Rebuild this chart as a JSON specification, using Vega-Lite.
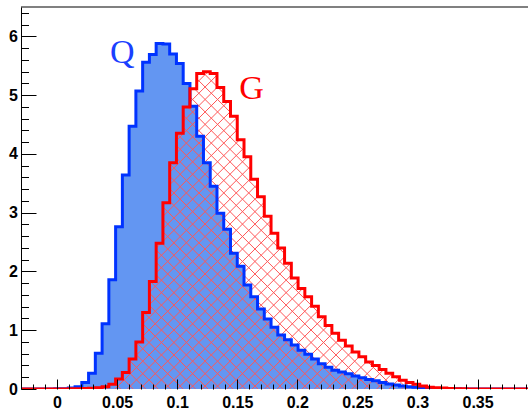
{
  "$schema": "https://vega.github.io/schema/vega-lite/v6.json",
  "width": 507,
  "height": 382,
  "autosize": {"type": "none"},
  "padding": {"left": 21, "top": 7, "right": 0, "bottom": 20},
  "background": "white",
  "config": {"view": {"stroke": null}},
  "data": {"values": [
    {"x":-0.03,"s":"Q","v":0},{"x":-0.024375,"s":"Q","v":0},{"x":-0.01875,"s":"Q","v":0},{"x":-0.013125,"s":"Q","v":0},{"x":-0.0075,"s":"Q","v":0.002},{"x":-0.001875,"s":"Q","v":0.003},{"x":0.00375,"s":"Q","v":0.006},{"x":0.009375,"s":"Q","v":0.015},{"x":0.015,"s":"Q","v":0.04},{"x":0.020625,"s":"Q","v":0.11},{"x":0.02625,"s":"Q","v":0.27},{"x":0.031875,"s":"Q","v":0.61},{"x":0.0375,"s":"Q","v":1.11},{"x":0.043125,"s":"Q","v":1.86},{"x":0.04875,"s":"Q","v":2.76},{"x":0.054375,"s":"Q","v":3.64},{"x":0.06,"s":"Q","v":4.47},{"x":0.065625,"s":"Q","v":5.07},{"x":0.07125,"s":"Q","v":5.56},{"x":0.076875,"s":"Q","v":5.69},{"x":0.0825,"s":"Q","v":5.88},{"x":0.088125,"s":"Q","v":5.87},{"x":0.09375,"s":"Q","v":5.7},{"x":0.099375,"s":"Q","v":5.54},{"x":0.105,"s":"Q","v":5.2},{"x":0.110625,"s":"Q","v":4.81},{"x":0.11625,"s":"Q","v":4.3},{"x":0.121875,"s":"Q","v":3.85},{"x":0.1275,"s":"Q","v":3.45},{"x":0.133125,"s":"Q","v":2.99},{"x":0.13875,"s":"Q","v":2.72},{"x":0.144375,"s":"Q","v":2.31},{"x":0.15,"s":"Q","v":2.09},{"x":0.155625,"s":"Q","v":1.77},{"x":0.16125,"s":"Q","v":1.57},{"x":0.166875,"s":"Q","v":1.36},{"x":0.1725,"s":"Q","v":1.19},{"x":0.178125,"s":"Q","v":1.05},{"x":0.18375,"s":"Q","v":0.92},{"x":0.189375,"s":"Q","v":0.84},{"x":0.195,"s":"Q","v":0.75},{"x":0.200625,"s":"Q","v":0.66},{"x":0.20625,"s":"Q","v":0.59},{"x":0.211875,"s":"Q","v":0.51},{"x":0.2175,"s":"Q","v":0.43},{"x":0.223125,"s":"Q","v":0.37},{"x":0.22875,"s":"Q","v":0.32},{"x":0.234375,"s":"Q","v":0.29},{"x":0.24,"s":"Q","v":0.26},{"x":0.245625,"s":"Q","v":0.22},{"x":0.25125,"s":"Q","v":0.19},{"x":0.256875,"s":"Q","v":0.16},{"x":0.2625,"s":"Q","v":0.14},{"x":0.268125,"s":"Q","v":0.11},{"x":0.27375,"s":"Q","v":0.085},{"x":0.279375,"s":"Q","v":0.07},{"x":0.285,"s":"Q","v":0.05},{"x":0.290625,"s":"Q","v":0.04},{"x":0.29625,"s":"Q","v":0.03},{"x":0.301875,"s":"Q","v":0.02},{"x":0.3075,"s":"Q","v":0.015},{"x":0.313125,"s":"Q","v":0.01},{"x":0.31875,"s":"Q","v":0.006},{"x":0.324375,"s":"Q","v":0.004},{"x":0.33,"s":"Q","v":0.003},{"x":0.335625,"s":"Q","v":0.002},{"x":0.34125,"s":"Q","v":0.001},{"x":0.346875,"s":"Q","v":0.001},{"x":0.3525,"s":"Q","v":0.001},{"x":0.358125,"s":"Q","v":0.001},{"x":0.36375,"s":"Q","v":0.001},{"x":0.369375,"s":"Q","v":0.001},{"x":0.375,"s":"Q","v":0.001},{"x":0.380625,"s":"Q","v":0.001},{"x":0.38625,"s":"Q","v":0.001},{"x":0.391875,"s":"Q","v":0.001},{"x":0.3975,"s":"Q","v":0},
    {"x":-0.03,"s":"G","v":0},{"x":-0.024375,"s":"G","v":0},{"x":-0.01875,"s":"G","v":0},{"x":-0.013125,"s":"G","v":0},{"x":-0.0075,"s":"G","v":0},{"x":-0.001875,"s":"G","v":0},{"x":0.00375,"s":"G","v":0.002},{"x":0.009375,"s":"G","v":0.003},{"x":0.015,"s":"G","v":0.005},{"x":0.020625,"s":"G","v":0.008},{"x":0.02625,"s":"G","v":0.012},{"x":0.031875,"s":"G","v":0.02},{"x":0.0375,"s":"G","v":0.04},{"x":0.043125,"s":"G","v":0.08},{"x":0.04875,"s":"G","v":0.17},{"x":0.054375,"s":"G","v":0.28},{"x":0.06,"s":"G","v":0.51},{"x":0.065625,"s":"G","v":0.8},{"x":0.07125,"s":"G","v":1.3},{"x":0.076875,"s":"G","v":1.83},{"x":0.0825,"s":"G","v":2.48},{"x":0.088125,"s":"G","v":3.17},{"x":0.09375,"s":"G","v":3.85},{"x":0.099375,"s":"G","v":4.35},{"x":0.105,"s":"G","v":4.8},{"x":0.110625,"s":"G","v":5.11},{"x":0.11625,"s":"G","v":5.37},{"x":0.121875,"s":"G","v":5.4},{"x":0.1275,"s":"G","v":5.37},{"x":0.133125,"s":"G","v":5.13},{"x":0.13875,"s":"G","v":4.89},{"x":0.144375,"s":"G","v":4.64},{"x":0.15,"s":"G","v":4.24},{"x":0.155625,"s":"G","v":3.95},{"x":0.16125,"s":"G","v":3.57},{"x":0.166875,"s":"G","v":3.27},{"x":0.1725,"s":"G","v":2.94},{"x":0.178125,"s":"G","v":2.65},{"x":0.18375,"s":"G","v":2.4},{"x":0.189375,"s":"G","v":2.14},{"x":0.195,"s":"G","v":1.89},{"x":0.200625,"s":"G","v":1.71},{"x":0.20625,"s":"G","v":1.57},{"x":0.211875,"s":"G","v":1.41},{"x":0.2175,"s":"G","v":1.23},{"x":0.223125,"s":"G","v":1.08},{"x":0.22875,"s":"G","v":0.95},{"x":0.234375,"s":"G","v":0.83},{"x":0.24,"s":"G","v":0.73},{"x":0.245625,"s":"G","v":0.63},{"x":0.25125,"s":"G","v":0.55},{"x":0.256875,"s":"G","v":0.46},{"x":0.2625,"s":"G","v":0.4},{"x":0.268125,"s":"G","v":0.33},{"x":0.27375,"s":"G","v":0.27},{"x":0.279375,"s":"G","v":0.21},{"x":0.285,"s":"G","v":0.15},{"x":0.290625,"s":"G","v":0.11},{"x":0.29625,"s":"G","v":0.08},{"x":0.301875,"s":"G","v":0.05},{"x":0.3075,"s":"G","v":0.03},{"x":0.313125,"s":"G","v":0.02},{"x":0.31875,"s":"G","v":0.015},{"x":0.324375,"s":"G","v":0.01},{"x":0.33,"s":"G","v":0.005},{"x":0.335625,"s":"G","v":0.003},{"x":0.34125,"s":"G","v":0.001},{"x":0.346875,"s":"G","v":0.001},{"x":0.3525,"s":"G","v":0.001},{"x":0.358125,"s":"G","v":0.001},{"x":0.36375,"s":"G","v":0.001},{"x":0.369375,"s":"G","v":0.001},{"x":0.375,"s":"G","v":0.001},{"x":0.380625,"s":"G","v":0.001},{"x":0.38625,"s":"G","v":0.001},{"x":0.391875,"s":"G","v":0.001},{"x":0.3975,"s":"G","v":0},
    {"x":0.0542,"s":"QL","v":5.54,"label":"Q"},
    {"x":0.1619,"s":"GL","v":4.93,"label":"G"}
  ]},
  "encoding": {
    "x": {"field": "x", "type": "quantitative",
      "scale": {"domain": [-0.03, 0.392], "nice": false, "zero": false},
      "axis": {"title": null, "domain": false, "grid": false, "zindex": 1,
        "values": [-0.03,-0.02,-0.01,0,0.01,0.02,0.03,0.04,0.05,0.06,0.07,0.08,0.09,0.1,0.11,0.12,0.13,0.14,0.15,0.16,0.17,0.18,0.19,0.2,0.21,0.22,0.23,0.24,0.25,0.26,0.27,0.28,0.29,0.3,0.31,0.32,0.33,0.34,0.35,0.36,0.37,0.38,0.39],
        "tickColor": "black", "tickWidth": 1,
        "tickSize": {"condition": {"test": "abs(datum.value*20-round(datum.value*20))<0.001", "value": -10}, "value": -5},
        "labelExpr": "abs(datum.value*20-round(datum.value*20))<0.001 ? format(datum.value,'~g') : ''",
        "labelFont": "Liberation Sans", "labelFontWeight": "bold", "labelFontSize": 16, "labelColor": "black",
        "labelPadding": 15, "labelFlush": false, "labelOverlap": false}},
    "y": {"field": "v", "type": "quantitative",
      "scale": {"domain": [0, 6.5], "nice": false},
      "stack": null,
      "axis": {"title": null, "domain": true, "domainColor": "black", "domainWidth": 1, "grid": false, "zindex": 1,
        "values": [0,0.2,0.4,0.6,0.8,1,1.2,1.4,1.6,1.8,2,2.2,2.4,2.6,2.8,3,3.2,3.4,3.6,3.8,4,4.2,4.4,4.6,4.8,5,5.2,5.4,5.6,5.8,6,6.2,6.4],
        "tickColor": "black", "tickWidth": 1,
        "tickSize": {"condition": {"test": "abs(datum.value-round(datum.value))<0.01", "value": -15}, "value": -7.5},
        "labelExpr": "abs(datum.value-round(datum.value))<0.01 ? format(datum.value,'d') : ''",
        "labelFont": "Liberation Sans", "labelFontWeight": "bold", "labelFontSize": 16, "labelColor": "black",
        "labelPadding": 18.5, "labelFlush": false, "labelOverlap": false}}
  },
  "layer": [
    {"transform": [{"filter": "datum.s == 'Q'"}],
     "mark": {"type": "area", "interpolate": "step-after", "orient": "vertical", "clip": true, "color": "#6396F2", "opacity": 1}},
    {"transform": [{"filter": "datum.s == 'G'"}],
     "mark": {"type": "area", "interpolate": "step-after", "orient": "vertical", "clip": true, "opacity": 1,
       "fill": {"gradient": "linear", "x1": 0, "y1": 0, "x2": 1.1708, "y2": 0.7236, "stops": [
{"offset":0,"color":"#ff555500"},
{"offset":0.0138,"color":"#ff555500"},{"offset":0.015,"color":"#ff5555"},{"offset":0.0162,"color":"#ff555500"},
{"offset":0.0288,"color":"#ff555500"},{"offset":0.03,"color":"#ff5555"},{"offset":0.0312,"color":"#ff555500"},
{"offset":0.0438,"color":"#ff555500"},{"offset":0.045,"color":"#ff5555"},{"offset":0.0462,"color":"#ff555500"},
{"offset":0.0588,"color":"#ff555500"},{"offset":0.06,"color":"#ff5555"},{"offset":0.0612,"color":"#ff555500"},
{"offset":0.0738,"color":"#ff555500"},{"offset":0.075,"color":"#ff5555"},{"offset":0.0762,"color":"#ff555500"},
{"offset":0.0888,"color":"#ff555500"},{"offset":0.09,"color":"#ff5555"},{"offset":0.0912,"color":"#ff555500"},
{"offset":0.1038,"color":"#ff555500"},{"offset":0.105,"color":"#ff5555"},{"offset":0.1062,"color":"#ff555500"},
{"offset":0.1188,"color":"#ff555500"},{"offset":0.12,"color":"#ff5555"},{"offset":0.1212,"color":"#ff555500"},
{"offset":0.1338,"color":"#ff555500"},{"offset":0.135,"color":"#ff5555"},{"offset":0.1362,"color":"#ff555500"},
{"offset":0.1488,"color":"#ff555500"},{"offset":0.15,"color":"#ff5555"},{"offset":0.1512,"color":"#ff555500"},
{"offset":0.1638,"color":"#ff555500"},{"offset":0.165,"color":"#ff5555"},{"offset":0.1662,"color":"#ff555500"},
{"offset":0.1788,"color":"#ff555500"},{"offset":0.18,"color":"#ff5555"},{"offset":0.1812,"color":"#ff555500"},
{"offset":0.1938,"color":"#ff555500"},{"offset":0.195,"color":"#ff5555"},{"offset":0.1962,"color":"#ff555500"},
{"offset":0.2088,"color":"#ff555500"},{"offset":0.21,"color":"#ff5555"},{"offset":0.2112,"color":"#ff555500"},
{"offset":0.2238,"color":"#ff555500"},{"offset":0.225,"color":"#ff5555"},{"offset":0.2262,"color":"#ff555500"},
{"offset":0.2388,"color":"#ff555500"},{"offset":0.24,"color":"#ff5555"},{"offset":0.2412,"color":"#ff555500"},
{"offset":0.2538,"color":"#ff555500"},{"offset":0.255,"color":"#ff5555"},{"offset":0.2562,"color":"#ff555500"},
{"offset":0.2688,"color":"#ff555500"},{"offset":0.27,"color":"#ff5555"},{"offset":0.2712,"color":"#ff555500"},
{"offset":0.2838,"color":"#ff555500"},{"offset":0.285,"color":"#ff5555"},{"offset":0.2862,"color":"#ff555500"},
{"offset":0.2988,"color":"#ff555500"},{"offset":0.3,"color":"#ff5555"},{"offset":0.3012,"color":"#ff555500"},
{"offset":0.3138,"color":"#ff555500"},{"offset":0.315,"color":"#ff5555"},{"offset":0.3162,"color":"#ff555500"},
{"offset":0.3288,"color":"#ff555500"},{"offset":0.33,"color":"#ff5555"},{"offset":0.3312,"color":"#ff555500"},
{"offset":0.3438,"color":"#ff555500"},{"offset":0.345,"color":"#ff5555"},{"offset":0.3462,"color":"#ff555500"},
{"offset":0.3588,"color":"#ff555500"},{"offset":0.36,"color":"#ff5555"},{"offset":0.3612,"color":"#ff555500"},
{"offset":0.3738,"color":"#ff555500"},{"offset":0.375,"color":"#ff5555"},{"offset":0.3762,"color":"#ff555500"},
{"offset":0.3888,"color":"#ff555500"},{"offset":0.39,"color":"#ff5555"},{"offset":0.3912,"color":"#ff555500"},
{"offset":0.4038,"color":"#ff555500"},{"offset":0.405,"color":"#ff5555"},{"offset":0.4062,"color":"#ff555500"},
{"offset":0.4188,"color":"#ff555500"},{"offset":0.42,"color":"#ff5555"},{"offset":0.4212,"color":"#ff555500"},
{"offset":0.4338,"color":"#ff555500"},{"offset":0.435,"color":"#ff5555"},{"offset":0.4362,"color":"#ff555500"},
{"offset":0.4488,"color":"#ff555500"},{"offset":0.45,"color":"#ff5555"},{"offset":0.4512,"color":"#ff555500"},
{"offset":0.4638,"color":"#ff555500"},{"offset":0.465,"color":"#ff5555"},{"offset":0.4662,"color":"#ff555500"},
{"offset":0.4788,"color":"#ff555500"},{"offset":0.48,"color":"#ff5555"},{"offset":0.4812,"color":"#ff555500"},
{"offset":0.4938,"color":"#ff555500"},{"offset":0.495,"color":"#ff5555"},{"offset":0.4962,"color":"#ff555500"},
{"offset":0.5088,"color":"#ff555500"},{"offset":0.51,"color":"#ff5555"},{"offset":0.5112,"color":"#ff555500"},
{"offset":0.5238,"color":"#ff555500"},{"offset":0.525,"color":"#ff5555"},{"offset":0.5262,"color":"#ff555500"},
{"offset":0.5388,"color":"#ff555500"},{"offset":0.54,"color":"#ff5555"},{"offset":0.5412,"color":"#ff555500"},
{"offset":0.5538,"color":"#ff555500"},{"offset":0.555,"color":"#ff5555"},{"offset":0.5562,"color":"#ff555500"},
{"offset":0.5688,"color":"#ff555500"},{"offset":0.57,"color":"#ff5555"},{"offset":0.5712,"color":"#ff555500"},
{"offset":0.5838,"color":"#ff555500"},{"offset":0.585,"color":"#ff5555"},{"offset":0.5862,"color":"#ff555500"},
{"offset":0.5988,"color":"#ff555500"},{"offset":0.6,"color":"#ff5555"},{"offset":0.6012,"color":"#ff555500"},
{"offset":0.6138,"color":"#ff555500"},{"offset":0.615,"color":"#ff5555"},{"offset":0.6162,"color":"#ff555500"},
{"offset":0.6288,"color":"#ff555500"},{"offset":0.63,"color":"#ff5555"},{"offset":0.6312,"color":"#ff555500"},
{"offset":0.6438,"color":"#ff555500"},{"offset":0.645,"color":"#ff5555"},{"offset":0.6462,"color":"#ff555500"},
{"offset":0.6588,"color":"#ff555500"},{"offset":0.66,"color":"#ff5555"},{"offset":0.6612,"color":"#ff555500"},
{"offset":0.6738,"color":"#ff555500"},{"offset":0.675,"color":"#ff5555"},{"offset":0.6762,"color":"#ff555500"},
{"offset":0.6888,"color":"#ff555500"},{"offset":0.69,"color":"#ff5555"},{"offset":0.6912,"color":"#ff555500"},
{"offset":0.7038,"color":"#ff555500"},{"offset":0.705,"color":"#ff5555"},{"offset":0.7062,"color":"#ff555500"},
{"offset":0.7188,"color":"#ff555500"},{"offset":0.72,"color":"#ff5555"},{"offset":0.7212,"color":"#ff555500"},
{"offset":0.7338,"color":"#ff555500"},{"offset":0.735,"color":"#ff5555"},{"offset":0.7362,"color":"#ff555500"},
{"offset":0.7488,"color":"#ff555500"},{"offset":0.75,"color":"#ff5555"},{"offset":0.7512,"color":"#ff555500"},
{"offset":0.7638,"color":"#ff555500"},{"offset":0.765,"color":"#ff5555"},{"offset":0.7662,"color":"#ff555500"},
{"offset":0.7788,"color":"#ff555500"},{"offset":0.78,"color":"#ff5555"},{"offset":0.7812,"color":"#ff555500"},
{"offset":0.7938,"color":"#ff555500"},{"offset":0.795,"color":"#ff5555"},{"offset":0.7962,"color":"#ff555500"},
{"offset":0.8088,"color":"#ff555500"},{"offset":0.81,"color":"#ff5555"},{"offset":0.8112,"color":"#ff555500"},
{"offset":0.8238,"color":"#ff555500"},{"offset":0.825,"color":"#ff5555"},{"offset":0.8262,"color":"#ff555500"},
{"offset":0.8388,"color":"#ff555500"},{"offset":0.84,"color":"#ff5555"},{"offset":0.8412,"color":"#ff555500"},
{"offset":0.8538,"color":"#ff555500"},{"offset":0.855,"color":"#ff5555"},{"offset":0.8562,"color":"#ff555500"},
{"offset":0.8688,"color":"#ff555500"},{"offset":0.87,"color":"#ff5555"},{"offset":0.8712,"color":"#ff555500"},
{"offset":0.8838,"color":"#ff555500"},{"offset":0.885,"color":"#ff5555"},{"offset":0.8862,"color":"#ff555500"},
{"offset":0.8988,"color":"#ff555500"},{"offset":0.9,"color":"#ff5555"},{"offset":0.9012,"color":"#ff555500"},
{"offset":0.9138,"color":"#ff555500"},{"offset":0.915,"color":"#ff5555"},{"offset":0.9162,"color":"#ff555500"},
{"offset":0.9288,"color":"#ff555500"},{"offset":0.93,"color":"#ff5555"},{"offset":0.9312,"color":"#ff555500"},
{"offset":0.9438,"color":"#ff555500"},{"offset":0.945,"color":"#ff5555"},{"offset":0.9462,"color":"#ff555500"},
{"offset":0.9588,"color":"#ff555500"},{"offset":0.96,"color":"#ff5555"},{"offset":0.9612,"color":"#ff555500"},
{"offset":0.9738,"color":"#ff555500"},{"offset":0.975,"color":"#ff5555"},{"offset":0.9762,"color":"#ff555500"},
{"offset":0.9888,"color":"#ff555500"},{"offset":0.99,"color":"#ff5555"},{"offset":0.9912,"color":"#ff555500"},
{"offset":1,"color":"#ff555500"}]}}},
    {"transform": [{"filter": "datum.s == 'G'"}],
     "mark": {"type": "area", "interpolate": "step-after", "orient": "vertical", "clip": true, "opacity": 1,
       "fill": {"gradient": "linear", "x1": 0, "y1": 1, "x2": 1.1708, "y2": 0.2764, "stops": [
{"offset":0,"color":"#ff555500"},
{"offset":0.0138,"color":"#ff555500"},{"offset":0.015,"color":"#ff5555"},{"offset":0.0162,"color":"#ff555500"},
{"offset":0.0288,"color":"#ff555500"},{"offset":0.03,"color":"#ff5555"},{"offset":0.0312,"color":"#ff555500"},
{"offset":0.0438,"color":"#ff555500"},{"offset":0.045,"color":"#ff5555"},{"offset":0.0462,"color":"#ff555500"},
{"offset":0.0588,"color":"#ff555500"},{"offset":0.06,"color":"#ff5555"},{"offset":0.0612,"color":"#ff555500"},
{"offset":0.0738,"color":"#ff555500"},{"offset":0.075,"color":"#ff5555"},{"offset":0.0762,"color":"#ff555500"},
{"offset":0.0888,"color":"#ff555500"},{"offset":0.09,"color":"#ff5555"},{"offset":0.0912,"color":"#ff555500"},
{"offset":0.1038,"color":"#ff555500"},{"offset":0.105,"color":"#ff5555"},{"offset":0.1062,"color":"#ff555500"},
{"offset":0.1188,"color":"#ff555500"},{"offset":0.12,"color":"#ff5555"},{"offset":0.1212,"color":"#ff555500"},
{"offset":0.1338,"color":"#ff555500"},{"offset":0.135,"color":"#ff5555"},{"offset":0.1362,"color":"#ff555500"},
{"offset":0.1488,"color":"#ff555500"},{"offset":0.15,"color":"#ff5555"},{"offset":0.1512,"color":"#ff555500"},
{"offset":0.1638,"color":"#ff555500"},{"offset":0.165,"color":"#ff5555"},{"offset":0.1662,"color":"#ff555500"},
{"offset":0.1788,"color":"#ff555500"},{"offset":0.18,"color":"#ff5555"},{"offset":0.1812,"color":"#ff555500"},
{"offset":0.1938,"color":"#ff555500"},{"offset":0.195,"color":"#ff5555"},{"offset":0.1962,"color":"#ff555500"},
{"offset":0.2088,"color":"#ff555500"},{"offset":0.21,"color":"#ff5555"},{"offset":0.2112,"color":"#ff555500"},
{"offset":0.2238,"color":"#ff555500"},{"offset":0.225,"color":"#ff5555"},{"offset":0.2262,"color":"#ff555500"},
{"offset":0.2388,"color":"#ff555500"},{"offset":0.24,"color":"#ff5555"},{"offset":0.2412,"color":"#ff555500"},
{"offset":0.2538,"color":"#ff555500"},{"offset":0.255,"color":"#ff5555"},{"offset":0.2562,"color":"#ff555500"},
{"offset":0.2688,"color":"#ff555500"},{"offset":0.27,"color":"#ff5555"},{"offset":0.2712,"color":"#ff555500"},
{"offset":0.2838,"color":"#ff555500"},{"offset":0.285,"color":"#ff5555"},{"offset":0.2862,"color":"#ff555500"},
{"offset":0.2988,"color":"#ff555500"},{"offset":0.3,"color":"#ff5555"},{"offset":0.3012,"color":"#ff555500"},
{"offset":0.3138,"color":"#ff555500"},{"offset":0.315,"color":"#ff5555"},{"offset":0.3162,"color":"#ff555500"},
{"offset":0.3288,"color":"#ff555500"},{"offset":0.33,"color":"#ff5555"},{"offset":0.3312,"color":"#ff555500"},
{"offset":0.3438,"color":"#ff555500"},{"offset":0.345,"color":"#ff5555"},{"offset":0.3462,"color":"#ff555500"},
{"offset":0.3588,"color":"#ff555500"},{"offset":0.36,"color":"#ff5555"},{"offset":0.3612,"color":"#ff555500"},
{"offset":0.3738,"color":"#ff555500"},{"offset":0.375,"color":"#ff5555"},{"offset":0.3762,"color":"#ff555500"},
{"offset":0.3888,"color":"#ff555500"},{"offset":0.39,"color":"#ff5555"},{"offset":0.3912,"color":"#ff555500"},
{"offset":0.4038,"color":"#ff555500"},{"offset":0.405,"color":"#ff5555"},{"offset":0.4062,"color":"#ff555500"},
{"offset":0.4188,"color":"#ff555500"},{"offset":0.42,"color":"#ff5555"},{"offset":0.4212,"color":"#ff555500"},
{"offset":0.4338,"color":"#ff555500"},{"offset":0.435,"color":"#ff5555"},{"offset":0.4362,"color":"#ff555500"},
{"offset":0.4488,"color":"#ff555500"},{"offset":0.45,"color":"#ff5555"},{"offset":0.4512,"color":"#ff555500"},
{"offset":0.4638,"color":"#ff555500"},{"offset":0.465,"color":"#ff5555"},{"offset":0.4662,"color":"#ff555500"},
{"offset":0.4788,"color":"#ff555500"},{"offset":0.48,"color":"#ff5555"},{"offset":0.4812,"color":"#ff555500"},
{"offset":0.4938,"color":"#ff555500"},{"offset":0.495,"color":"#ff5555"},{"offset":0.4962,"color":"#ff555500"},
{"offset":0.5088,"color":"#ff555500"},{"offset":0.51,"color":"#ff5555"},{"offset":0.5112,"color":"#ff555500"},
{"offset":0.5238,"color":"#ff555500"},{"offset":0.525,"color":"#ff5555"},{"offset":0.5262,"color":"#ff555500"},
{"offset":0.5388,"color":"#ff555500"},{"offset":0.54,"color":"#ff5555"},{"offset":0.5412,"color":"#ff555500"},
{"offset":0.5538,"color":"#ff555500"},{"offset":0.555,"color":"#ff5555"},{"offset":0.5562,"color":"#ff555500"},
{"offset":0.5688,"color":"#ff555500"},{"offset":0.57,"color":"#ff5555"},{"offset":0.5712,"color":"#ff555500"},
{"offset":0.5838,"color":"#ff555500"},{"offset":0.585,"color":"#ff5555"},{"offset":0.5862,"color":"#ff555500"},
{"offset":0.5988,"color":"#ff555500"},{"offset":0.6,"color":"#ff5555"},{"offset":0.6012,"color":"#ff555500"},
{"offset":0.6138,"color":"#ff555500"},{"offset":0.615,"color":"#ff5555"},{"offset":0.6162,"color":"#ff555500"},
{"offset":0.6288,"color":"#ff555500"},{"offset":0.63,"color":"#ff5555"},{"offset":0.6312,"color":"#ff555500"},
{"offset":0.6438,"color":"#ff555500"},{"offset":0.645,"color":"#ff5555"},{"offset":0.6462,"color":"#ff555500"},
{"offset":0.6588,"color":"#ff555500"},{"offset":0.66,"color":"#ff5555"},{"offset":0.6612,"color":"#ff555500"},
{"offset":0.6738,"color":"#ff555500"},{"offset":0.675,"color":"#ff5555"},{"offset":0.6762,"color":"#ff555500"},
{"offset":0.6888,"color":"#ff555500"},{"offset":0.69,"color":"#ff5555"},{"offset":0.6912,"color":"#ff555500"},
{"offset":0.7038,"color":"#ff555500"},{"offset":0.705,"color":"#ff5555"},{"offset":0.7062,"color":"#ff555500"},
{"offset":0.7188,"color":"#ff555500"},{"offset":0.72,"color":"#ff5555"},{"offset":0.7212,"color":"#ff555500"},
{"offset":0.7338,"color":"#ff555500"},{"offset":0.735,"color":"#ff5555"},{"offset":0.7362,"color":"#ff555500"},
{"offset":0.7488,"color":"#ff555500"},{"offset":0.75,"color":"#ff5555"},{"offset":0.7512,"color":"#ff555500"},
{"offset":0.7638,"color":"#ff555500"},{"offset":0.765,"color":"#ff5555"},{"offset":0.7662,"color":"#ff555500"},
{"offset":0.7788,"color":"#ff555500"},{"offset":0.78,"color":"#ff5555"},{"offset":0.7812,"color":"#ff555500"},
{"offset":0.7938,"color":"#ff555500"},{"offset":0.795,"color":"#ff5555"},{"offset":0.7962,"color":"#ff555500"},
{"offset":0.8088,"color":"#ff555500"},{"offset":0.81,"color":"#ff5555"},{"offset":0.8112,"color":"#ff555500"},
{"offset":0.8238,"color":"#ff555500"},{"offset":0.825,"color":"#ff5555"},{"offset":0.8262,"color":"#ff555500"},
{"offset":0.8388,"color":"#ff555500"},{"offset":0.84,"color":"#ff5555"},{"offset":0.8412,"color":"#ff555500"},
{"offset":0.8538,"color":"#ff555500"},{"offset":0.855,"color":"#ff5555"},{"offset":0.8562,"color":"#ff555500"},
{"offset":0.8688,"color":"#ff555500"},{"offset":0.87,"color":"#ff5555"},{"offset":0.8712,"color":"#ff555500"},
{"offset":0.8838,"color":"#ff555500"},{"offset":0.885,"color":"#ff5555"},{"offset":0.8862,"color":"#ff555500"},
{"offset":0.8988,"color":"#ff555500"},{"offset":0.9,"color":"#ff5555"},{"offset":0.9012,"color":"#ff555500"},
{"offset":0.9138,"color":"#ff555500"},{"offset":0.915,"color":"#ff5555"},{"offset":0.9162,"color":"#ff555500"},
{"offset":0.9288,"color":"#ff555500"},{"offset":0.93,"color":"#ff5555"},{"offset":0.9312,"color":"#ff555500"},
{"offset":0.9438,"color":"#ff555500"},{"offset":0.945,"color":"#ff5555"},{"offset":0.9462,"color":"#ff555500"},
{"offset":0.9588,"color":"#ff555500"},{"offset":0.96,"color":"#ff5555"},{"offset":0.9612,"color":"#ff555500"},
{"offset":0.9738,"color":"#ff555500"},{"offset":0.975,"color":"#ff5555"},{"offset":0.9762,"color":"#ff555500"},
{"offset":0.9888,"color":"#ff555500"},{"offset":0.99,"color":"#ff5555"},{"offset":0.9912,"color":"#ff555500"},
{"offset":1,"color":"#ff555500"}]}}},
    {"transform": [{"filter": "datum.s == 'Q'"}],
     "mark": {"type": "line", "interpolate": "step-after", "clip": true, "color": "#0033FF", "strokeWidth": 3}},
    {"transform": [{"filter": "datum.s == 'G'"}],
     "mark": {"type": "line", "interpolate": "step-after", "clip": true, "color": "#FF0000", "strokeWidth": 3}},
    {"transform": [{"filter": "datum.s == 'QL'"}],
     "mark": {"type": "text", "font": "Liberation Serif", "fontSize": 34, "align": "center", "baseline": "alphabetic", "color": "#1a40ff"},
     "encoding": {"text": {"field": "label"}}},
    {"transform": [{"filter": "datum.s == 'GL'"}],
     "mark": {"type": "text", "font": "Liberation Serif", "fontSize": 34, "align": "center", "baseline": "alphabetic", "color": "#ff0000"},
     "encoding": {"text": {"field": "label"}}},
    {"mark": {"type": "rule", "color": "#808080", "strokeWidth": 2},
     "encoding": {"x": {"datum": -0.03}, "x2": {"datum": 0.392}, "y": {"datum": 6.5}}}
  ]
}
